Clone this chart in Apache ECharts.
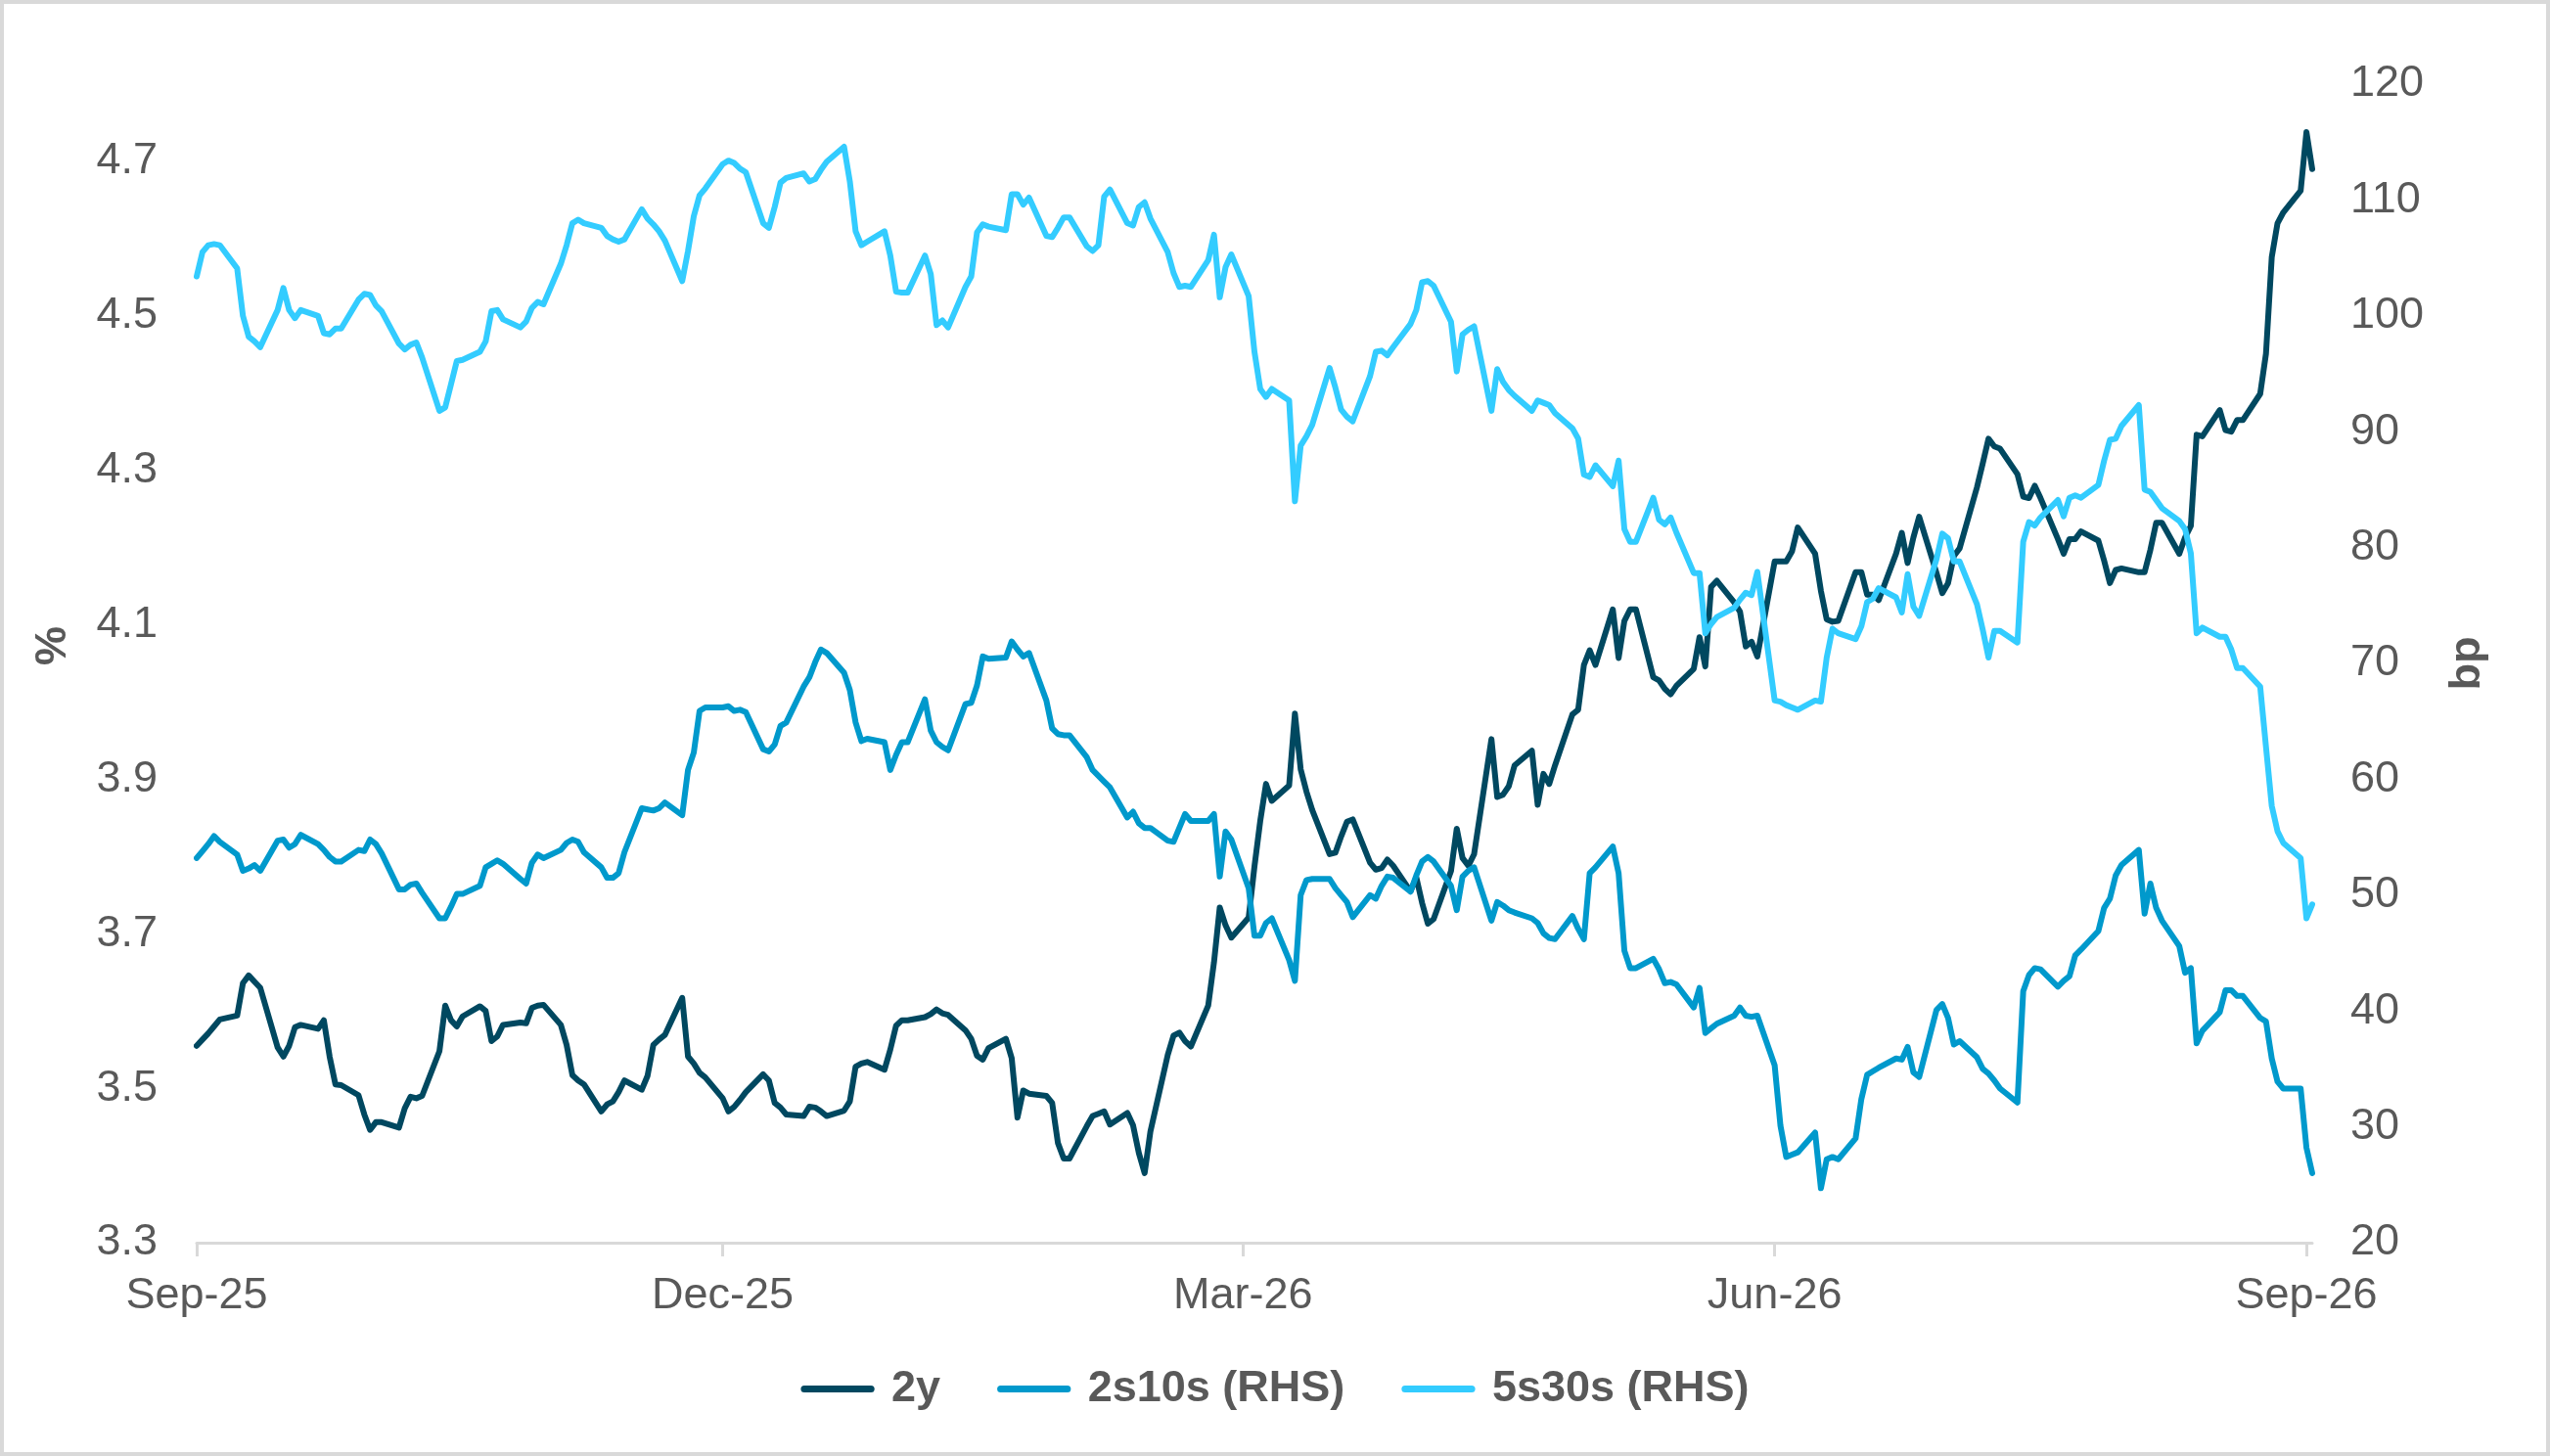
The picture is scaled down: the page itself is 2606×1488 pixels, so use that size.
<!DOCTYPE html>
<html>
<head>
<meta charset="utf-8">
<title>2y, 2s10s and 5s30s</title>
<script src="https://cdn.jsdelivr.net/npm/echarts@6/dist/echarts.min.js"></script>
<style>
  html, body { margin: 0; padding: 0; background: #fff; }
  #chart { width: 2606px; height: 1488px; }
</style>
</head>
<body>
<div id="chart"></div>
<script>
// business-day series, Sep-25 to Sep-26
const firstDay = '2025-09-01';
const lastDay = '2026-09-02';

const tickDays = ['2025-09-01', '2025-12-01', '2026-03-01', '2026-06-01', '2026-09-01'];
const tickLabels = ['Sep-25', 'Dec-25', 'Mar-26', 'Jun-26', 'Sep-26'];
const leftTicks = [3.3, 3.5, 3.7, 3.9, 4.1, 4.3, 4.5, 4.7];

const seriesNames = ['2y', '2s10s (RHS)', '5s30s (RHS)'];

// 2y yield, %
const twoYear = [
  3.555,3.563,3.571,3.580,3.589, 3.594,3.636,3.646,3.638,3.630,
  3.553,3.541,3.555,3.579,3.582, 3.577,3.588,3.541,3.505,3.504,
  3.491,3.466,3.446,3.456,3.456, 3.449,3.474,3.489,3.487,3.490,
  3.548,3.607,3.588,3.580,3.593, 3.606,3.600,3.561,3.567,3.582,
  3.585,3.584,3.604,3.607,3.608, 3.582,3.556,3.517,3.510,3.505,
  3.470,3.479,3.483,3.495,3.510, 3.498,3.516,3.556,3.563,3.569,
  3.617,3.541,3.532,3.520,3.514, 3.487,3.470,3.476,3.485,3.495,
  3.518,3.510,3.481,3.475,3.466, 3.464,3.476,3.475,3.470,3.464,
  3.471,3.483,3.528,3.532,3.534, 3.524,3.550,3.581,3.588,3.588,
  3.592,3.596,3.602,3.597,3.595, 3.575,3.564,3.542,3.537,3.552,
  3.564,3.539,3.462,3.497,3.493, 3.490,3.481,3.429,3.409,3.409,
  3.451,3.464,3.467,3.470,3.453, 3.468,3.452,3.416,3.390,3.444,
  3.543,3.568,3.572,3.561,3.554, 3.607,3.663,3.734,3.711,3.695,
  3.721,3.787,3.846,3.894,3.872, 3.892,3.985,3.913,3.884,3.860,
  3.803,3.805,3.826,3.845,3.848, 3.792,3.783,3.785,3.796,3.788,
  3.755,3.773,3.740,3.713,3.719, 3.781,3.836,3.798,3.788,3.803,
  3.952,3.877,3.880,3.891,3.918, 3.937,3.867,3.907,3.894,3.918,
  3.984,3.990,4.048,4.067,4.048, 4.120,4.057,4.105,4.120,4.120,
  4.032,4.028,4.017,4.010,4.021, 4.043,4.084,4.046,4.149,4.157,
  4.129,4.117,4.072,4.078,4.059, 4.182,4.182,4.182,4.195,4.226,
  4.192,4.144,4.107,4.104,4.105, 4.168,4.168,4.139,4.139,4.132,
  4.192,4.219,4.180,4.213,4.240, 4.167,4.141,4.154,4.189,4.199,
  4.278,4.309,4.341,4.331,4.328, 4.295,4.266,4.264,4.280,4.264,
  4.211,4.192,4.211,4.211,4.221, 4.209,4.183,4.154,4.171,4.173,
  4.168,4.168,4.197,4.232,4.232, 4.192,4.213,4.228,4.346,4.344,
  4.378,4.352,4.350,4.365,4.365, 4.399,4.451,4.576,4.620,4.634,
  4.662,4.738,4.690
];

// 2s10s curve, bp
const curve2s10s = [
  53.2,53.8,54.4,55.1,54.6, 53.5,52.1,52.3,52.6,52.1,
  54.7,54.8,54.1,54.4,55.2, 54.4,53.9,53.3,52.9,52.9,
  53.9,53.8,54.8,54.4,53.6, 50.5,50.5,50.9,51.0,50.2,
  48.0,48.0,49.0,50.1,50.1, 50.8,52.4,52.7,53.0,52.7,
  51.4,51.0,52.8,53.5,53.2, 53.9,54.5,54.8,54.6,53.7,
  52.4,51.5,51.5,51.9,53.7, 57.5,57.4,57.3,57.5,58.0,
  56.9,60.8,62.3,65.9,66.2, 66.2,66.3,65.9,66.0,65.8,
  62.6,62.4,63.0,64.6,64.9, 68.0,68.8,70.1,71.2,70.9,
  69.2,67.7,64.9,63.3,63.5, 63.2,60.8,62.1,63.2,63.2,
  66.9,64.2,63.2,62.8,62.5, 66.5,66.6,68.1,70.6,70.4,
  70.5,71.9,71.2,70.6,70.9, 66.8,64.4,63.9,63.8,63.8,
  61.9,60.8,60.3,59.8,59.3, 56.7,57.2,56.2,55.8,55.8,
  54.7,54.6,55.8,57.0,56.4, 56.4,57.0,51.6,55.5,54.8,
  50.6,46.5,46.5,47.6,48.0, 44.4,42.6,50.0,51.3,51.4,
  51.4,50.6,50.0,49.4,48.1, 50.0,49.7,50.8,51.6,51.5,
  50.3,51.7,52.9,53.3,52.9, 50.8,48.7,51.6,52.1,52.4,
  47.8,49.4,49.1,48.7,48.5, 48.0,47.6,46.7,46.3,46.2,
  48.2,47.1,46.2,51.9,52.4, 54.2,51.9,45.2,43.7,43.7,
  44.5,43.6,42.4,42.5,42.3, 40.3,42.0,38.1,38.5,38.9,
  39.6,40.3,39.6,39.5,39.6, 35.3,30.1,27.4,27.6,27.8,
  29.5,24.7,27.2,27.4,27.2, 29.0,32.4,34.5,34.8,35.1,
  35.9,35.8,36.9,34.7,34.3, 40.1,40.6,39.4,37.1,37.4,
  36.0,35.0,34.6,34.0,33.3, 32.1,41.7,43.1,43.7,43.6,
  42.1,42.6,43.0,44.8,45.3, 46.9,48.9,49.7,51.7,52.6,
  53.9,48.4,51.0,48.9,47.8, 45.6,43.3,43.7,37.2,38.3,
  39.9,41.8,41.8,41.3,41.3, 39.4,39.1,35.9,33.9,33.3,
  33.3,28.2,26.0
];

// 5s30s curve, bp
const curve5s30s = [
  103.4,105.5,106.1,106.2,106.1, 104.1,100.0,98.2,97.8,97.3,
  100.5,102.4,100.5,99.8,100.5, 100.0,98.5,98.4,98.9,98.9,
  101.4,101.9,101.8,100.9,100.4, 97.6,97.1,97.5,97.7,96.4,
  91.8,92.1,94.1,96.1,96.2, 96.9,97.8,100.4,100.5,99.7,
  99.0,99.5,100.7,101.2,101.0, 104.5,106.1,108.0,108.3,108.0,
  107.6,106.9,106.6,106.4,106.6, 109.2,108.4,107.9,107.3,106.5,
  103.0,105.6,108.6,110.4,111.0, 113.1,113.4,113.2,112.7,112.4,
  108.0,107.6,109.4,111.5,111.9, 112.3,111.6,111.8,112.6,113.3,
  114.6,111.6,107.3,106.1,106.4, 107.3,105.2,102.1,102.0,102.0,
  105.2,103.6,99.2,99.6,99.0, 102.5,103.4,107.2,107.9,107.7,
  107.4,110.5,110.5,109.6,110.2, 106.9,106.8,107.6,108.5,108.5,
  106.0,105.6,106.1,110.3,110.9, 108.0,107.8,109.4,109.8,108.4,
  105.5,103.7,102.5,102.6,102.5, 104.8,107.0,101.6,104.2,105.3,
  101.7,96.9,93.7,93.0,93.7, 92.7,84.0,88.8,89.6,90.6,
  95.5,93.8,91.9,91.3,90.9, 94.8,96.9,97.0,96.6,97.3,
  99.3,100.5,102.9,103.0,102.6, 99.5,95.2,98.4,98.8,99.1,
  91.8,95.4,94.3,93.6,93.1, 91.8,92.7,92.5,92.3,91.6,
  90.3,89.4,86.3,86.1,87.1, 85.3,87.5,81.6,80.5,80.5,
  84.3,82.4,82.0,82.6,81.3, 77.8,77.8,72.6,73.4,74.0,
  74.8,75.5,76.1,75.9,77.9, 66.8,66.7,66.4,66.2,66.0,
  66.8,66.7,70.5,73.0,72.6, 72.1,73.2,75.3,75.6,76.5,
  75.7,74.4,77.7,74.9,74.1, 79.0,81.2,80.8,78.8,78.8,
  75.1,72.9,70.5,72.8,72.8, 71.8,80.5,82.2,81.9,82.6,
  84.1,82.7,84.3,84.5,84.3, 85.4,87.5,89.3,89.4,90.5,
  92.3,85.0,84.8,84.1,83.4, 82.3,81.6,79.5,72.6,73.1,
  72.3,72.3,71.2,69.6,69.6, 68.0,62.8,57.7,55.5,54.5,
  53.2,48.0,49.2
];

const colors = ['#004860', '#0099CC', '#33CCFF'];
const font = 'Liberation Sans, Arial, Helvetica, sans-serif';
const grey = '#595959';
const dayMs = 86400000;

function parseDay(s) {
  const p = s.split('-').map(Number);
  return new Date(p[0], p[1] - 1, p[2]).getTime();
}

// calendar days since the first date, so the x scale is linear in time
const t0 = parseDay(firstDay);
function dayIndex(t) {
  return Math.round((t - t0) / dayMs);
}

// Mon-Fri dates between two days
function businessDays(from, to) {
  const out = [];
  const d = new Date(parseDay(from));
  const end = parseDay(to);
  while (d.getTime() <= end) {
    const w = d.getDay();
    if (w !== 0 && w !== 6) out.push(d.getTime());
    d.setDate(d.getDate() + 1);
  }
  return out;
}

const dates = businessDays(firstDay, lastDay);
const xDays = dates.map(dayIndex);
const tickX = tickDays.map(s => dayIndex(parseDay(s)));

function pairs(values) {
  return xDays.map((x, i) => [x, values[i]]);
}

function tickLabel(v) {
  const i = tickX.indexOf(Math.round(v));
  return i >= 0 ? tickLabels[i] : '';
}

function lineSeries(i, axis, values) {
  return {
    name: seriesNames[i],
    type: 'line',
    yAxisIndex: axis,
    symbol: 'none',
    lineStyle: { width: 6, color: colors[i], cap: 'round', join: 'round' },
    data: pairs(values)
  };
}

const pill = 'path://M4,0 L82,0 A4,4 0 0 1 82,8 L4,8 A4,4 0 0 1 4,0 Z';

const chart = echarts.init(document.getElementById('chart'));

const option = {
  animation: false,
  backgroundColor: '#ffffff',
  color: colors,
  textStyle: { fontFamily: font },
  graphic: [{
    type: 'rect',
    silent: true,
    shape: { x: 2, y: 2, width: 2602, height: 1484 },
    style: { fill: 'none', stroke: '#d9d9d9', lineWidth: 4 }
  }],
  grid: {
    left: 201,
    right: 243,
    top: 86,
    bottom: 218
  },
  legend: {
    data: seriesNames,
    left: 'center',
    top: 1392,
    icon: pill,
    itemWidth: 86,
    itemHeight: 7,
    itemGap: 58,
    textStyle: {
      color: grey,
      fontSize: 45,
      fontWeight: 'bold',
      fontFamily: font,
      padding: [0, 0, 0, 7]
    }
  },
  xAxis: {
    type: 'value',
    min: 0,
    max: dayIndex(parseDay(lastDay)),
    axisLine: { onZero: false, lineStyle: { color: '#d9d9d9', width: 3 } },
    axisTick: {
      show: true,
      customValues: tickX,
      length: 14,
      lineStyle: { color: '#d9d9d9', width: 3 }
    },
    axisLabel: {
      customValues: tickX,
      formatter: tickLabel,
      color: grey,
      fontSize: 45,
      fontFamily: font,
      margin: 32
    },
    splitLine: { show: false }
  },
  yAxis: [{
    type: 'value',
    position: 'left',
    min: 3.3,
    max: 4.8,
    name: '%',
    nameLocation: 'middle',
    nameRotate: 90,
    nameGap: 124,
    nameTextStyle: {
      color: grey, fontSize: 45, fontWeight: 'bold', fontFamily: font,
      padding: [0, 0, 0, 36]
    },
    axisLine: { show: false },
    axisTick: { show: false },
    splitLine: { show: false },
    axisLabel: {
      customValues: leftTicks,
      formatter: v => v.toFixed(1),
      color: grey,
      fontSize: 45,
      fontFamily: font,
      margin: 40
    }
  }, {
    type: 'value',
    position: 'right',
    min: 20,
    max: 120,
    interval: 10,
    name: 'bp',
    nameLocation: 'middle',
    nameRotate: 90,
    nameGap: 136,
    nameTextStyle: { color: grey, fontSize: 45, fontWeight: 'bold', fontFamily: font },
    axisLine: { show: false },
    axisTick: { show: false },
    splitLine: { show: false },
    axisLabel: {
      color: grey,
      fontSize: 45,
      fontFamily: font,
      align: 'left',
      margin: 39
    }
  }],
  series: [
    lineSeries(0, 0, twoYear),
    lineSeries(1, 1, curve2s10s),
    lineSeries(2, 1, curve5s30s)
  ]
};

chart.setOption(option);
</script>
</body>
</html>
